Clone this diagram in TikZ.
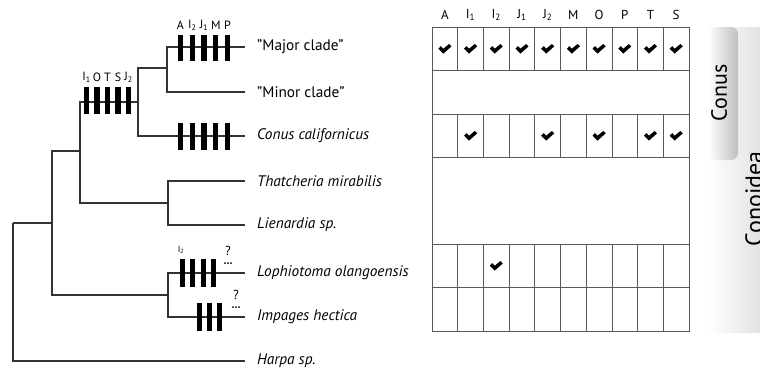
\documentclass[tikz,border=0pt]{standalone}
\usepackage{fontspec}
\setmainfont{PT Sans}
\usetikzlibrary{calc}
\begin{document}
\begin{tikzpicture}[x=1pt,y=-1pt,
  edge/.style={draw=black!80, line width=1.1pt},
  gridline/.style={draw=black!65, line width=0.8pt},
  barmark/.style={fill=black},
  leaf/.style={anchor=west, inner sep=0pt, font=\fontsize{15.3}{17}\selectfont},
  sp/.style={anchor=west, inner sep=0pt, font=\fontsize{15.3}{17}\selectfont\itshape},
  hdr/.style={font=\fontsize{13}{15}\selectfont, inner sep=0pt},
  chr/.style={font=\fontsize{12}{14}\selectfont, inner sep=0pt},
  chkmark/.pic={\fill[black] (-6.5,-0.3) -- (-4.0,-2.9) -- (-1.5,-0.3) -- (4.2,-5.0) -- (6.6,-2.6) -- (-1.5,4.6) -- cycle;},
  tabtext/.style={rotate=90, anchor=north, inner sep=0pt},
]
\useasboundingbox (0,0) rectangle (760,372);

% ---------- tabs ----------
\shade[left color=white, right color=black!18, rounded corners=7] (708,27) rectangle (790,333);
\shade[left color=white, right color=black!25, rounded corners=7] (708,27) rectangle (738,160);
\node[tabtext, font=\fontsize{22}{24}\selectfont] (conustab) at (711,93) {Conus};
\node[tabtext, font=\fontsize{24}{26}\selectfont] (conoideatab) at (745,199) {Conoidea};

% ---------- tree coordinates ----------
\coordinate (root) at (13,223);
\coordinate (n1) at (52,223);
\coordinate (n2) at (80,151);
\coordinate (n3) at (138,102);
\coordinate (n4) at (167,68);
\coordinate (n5) at (168,203);
\coordinate (n6) at (168,295);
\coordinate (lmaj) at (245,47);
\coordinate (lmin) at (245,92);
\coordinate (lcal) at (245,136);
\coordinate (ltha) at (245,181);
\coordinate (llie) at (245,225);
\coordinate (llop) at (245,273);
\coordinate (limp) at (245,317);
\coordinate (lhar) at (245,361);

\draw[edge] (root) |- (n1);
\draw[edge] (root) |- (lhar);
\draw[edge] (n1) |- (n2);
\draw[edge] (n1) |- (n6);
\draw[edge] (n2) |- (n3);
\draw[edge] (n2) |- (n5);
\draw[edge] (n3) |- (n4);
\draw[edge] (n3) |- (lcal);
\draw[edge] (n4) |- (lmaj);
\draw[edge] (n4) |- (lmin);
\draw[edge] (n5) |- (ltha);
\draw[edge] (n5) |- (llie);
\draw[edge] (n6) |- (llop);
\draw[edge] (n6) |- (limp);

% ---------- leaf labels ----------
\node[leaf] (tmaj) at (257,47) {"Major clade"};
\node[leaf] (tmin) at (257,92) {"Minor clade"};
\node[sp] (tcal) at (257,136) {Conus californicus};
\node[sp] (ttha) at (257,181) {Thatcheria mirabilis};
\node[sp] (tlie) at (257,225) {Lienardia sp.};
\node[sp] (tlop) at (257,273) {Lophiotoma olangoensis};
\node[sp] (timp) at (257,317) {Impages hectica};
\node[sp] (thar) at (257,361) {Harpa sp.};

% ---------- character bars ----------
\foreach \x in {86.5,97,107.5,118,128.5}
  \fill[barmark] (\x-2.6,87) rectangle (\x+2.6,114);
\foreach \x in {180.5,192.25,204,215.75,227.5} {
  \fill[barmark] (\x-2.6,34.5) rectangle (\x+2.6,60.5);
  \fill[barmark] (\x-2.6,123) rectangle (\x+2.6,150);
}
\foreach \x in {182.5,192.8,203.1,213.4}
  \fill[barmark] (\x-2.6,259) rectangle (\x+2.6,287);
\foreach \x in {199.5,209.5,219.5}
  \fill[barmark] (\x-2.6,303) rectangle (\x+2.6,331);

% bar labels
\foreach \x/\t in {86.5/I\textsubscript{1},97/O,107.5/T,118/S,128.5/J\textsubscript{2}}
  \node[chr] at (\x,77) {\t};
\foreach \x/\t in {180.5/A,192.25/I\textsubscript{2},204/J\textsubscript{1},215.75/M,227.5/P}
  \node[chr] at (\x,25) {\t};
\node[chr, font=\fontsize{9}{10}\selectfont] (lopI) at (181,250) {I\textsubscript{2}};
\node[chr, font=\fontsize{13}{14}\selectfont] (q1) at (228,251) {?};
\node[chr, font=\fontsize{13}{14}\selectfont] (q2) at (236,295) {?};
\foreach \x in {-3,0,3} {
  \fill (228+\x,263) circle (1);
  \fill (236+\x,307) circle (1);
}

% ---------- table ----------
\foreach \i/\t in {0/A,1/I\textsubscript{1},2/I\textsubscript{2},3/J\textsubscript{1},4/J\textsubscript{2},5/M,6/O,7/P,8/T,9/S}
  \node[hdr] at (432+25.7*\i+12.85,15) {\t};
\draw[gridline] (432,27) rectangle (689,331);
\foreach \y in {70.5,114,157.5,244,287.5}
  \draw[gridline] (432,\y) -- (689,\y);
\foreach \i in {1,...,9} {
  \draw[gridline] (432+25.7*\i,27) -- (432+25.7*\i,70.5);
  \draw[gridline] (432+25.7*\i,114) -- (432+25.7*\i,157.5);
  \draw[gridline] (432+25.7*\i,244) -- (432+25.7*\i,331);
}
% check marks
\foreach \i in {0,...,9}
  \pic at (432+25.7*\i+12.85,49) {chkmark};
\foreach \i in {1,4,6,8,9}
  \pic at (432+25.7*\i+12.85,136) {chkmark};
\pic at (432+25.7*2+12.85,266) {chkmark};
\end{tikzpicture}
\end{document}
